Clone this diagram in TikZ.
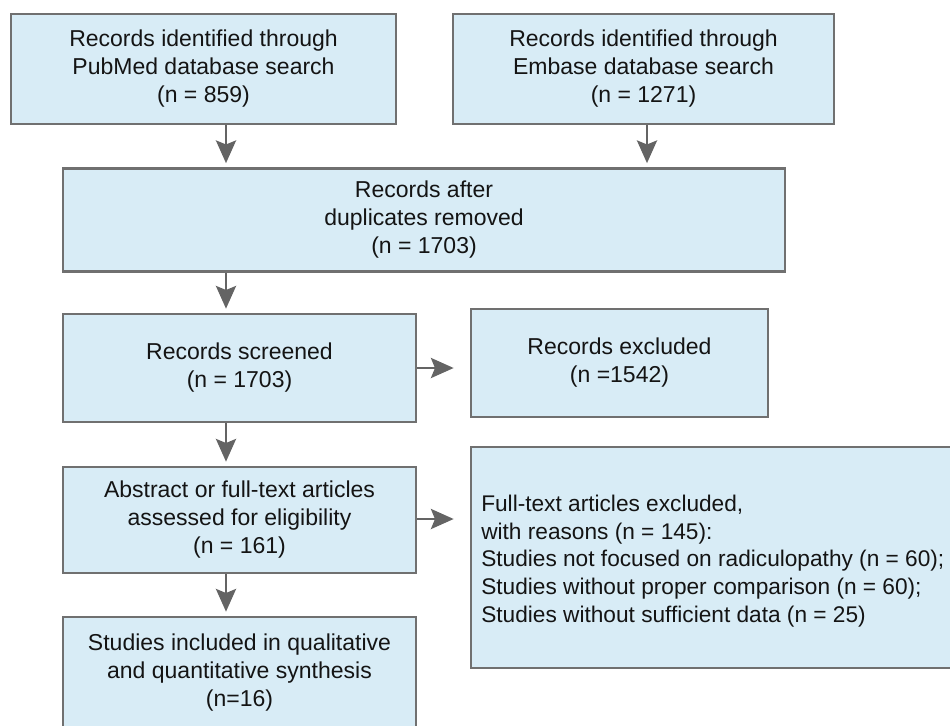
\documentclass[tikz,border=0pt]{standalone}
\usepackage{fontspec}
\setmainfont{Liberation Sans}
\usetikzlibrary{fit,arrows.meta}
\definecolor{boxfill}{RGB}{216,236,246}
\definecolor{boxline}{RGB}{112,112,112}
\definecolor{arrowcol}{RGB}{100,100,100}
\definecolor{txt}{RGB}{20,20,20}
\tikzset{
  flowbox/.style={draw=boxline, fill=boxfill, line width=2pt, inner sep=0pt,
    align=center, text=txt, font=\fontsize{17.25pt}{21pt}\selectfont},
  boxsize/.style 2 args={minimum width={#1*0.75pt}, minimum height={#2*0.75pt}},
  flowtext/.style={inner sep=0pt, align=left, text=txt,
    font=\fontsize{17pt}{20.7pt}\selectfont},
  flowarrow/.style={draw=arrowcol, line width=2.2pt,
    -{Stealth[length=17pt,width=15pt,inset=3pt]}}
}
\begin{document}
\begin{tikzpicture}[x=0.75pt,y=-0.75pt]
\useasboundingbox (0,0) rectangle (950,725);
\clip (0,0) rectangle (950,725);
\fill[white] (0,0) rectangle (950,725);

\node[flowbox, boxsize={385}{110}] (b1) at (203.5,69)
  {Records identified through\\PubMed database search\\(n = 859)};
\node[flowbox, boxsize={381}{110}] (b2) at (643.5,69)
  {Records identified through\\Embase database search\\(n = 1271)};
\node[flowbox, boxsize={722}{103}] (b3) at (424,220)
  {Records after\\duplicates removed\\(n = 1703)};
\node[flowbox, boxsize={353}{108}] (b4) at (239.5,368)
  {Records screened\\(n = 1703)};
\node[flowbox, boxsize={297}{108}] (b5) at (619.5,363)
  {Records excluded\\(n =1542)};
\node[flowbox, boxsize={353}{106}] (b6) at (239.5,520)
  {Abstract or full-text articles\\assessed for eligibility\\(n = 161)};
\node[flowbox, fit={(471,447) (1000,668)}] (b7) {};
\node[flowtext, anchor=west] (b7t) at (481,561)
  {Full-text articles excluded,\\with reasons (n = 145):\\Studies not focused on radiculopathy (n = 60);\\Studies without proper comparison (n = 60);\\Studies without sufficient data (n = 25)};
\node[flowbox, boxsize={353}{111}] (b8) at (239.5,672.5)
  {Studies included in qualitative\\and quantitative synthesis\\(n=16)};

\coordinate (colL) at (226,0);
\coordinate (colR) at (647,0);

\draw[flowarrow, shorten >=3pt] (b1.south -| colL) -- (b3.north -| colL);
\draw[flowarrow, shorten >=3pt] (b2.south -| colR) -- (b3.north -| colR);
\draw[flowarrow, shorten >=3pt] (b3.south -| colL) -- (b4.north -| colL);
\draw[flowarrow, shorten >=3pt] (b4.south -| colL) -- (b6.north -| colL);
\draw[flowarrow, shorten >=3pt] (b6.south -| colL) -- (b8.north -| colL);
\coordinate (h1) at (0,368);
\coordinate (h2) at (0,519);
\draw[flowarrow, shorten >=12pt] (b4.east |- h1) -- (b5.west |- h1);
\draw[flowarrow, shorten >=12pt] (b6.east |- h2) -- (b7.west |- h2);
\end{tikzpicture}
\end{document}
